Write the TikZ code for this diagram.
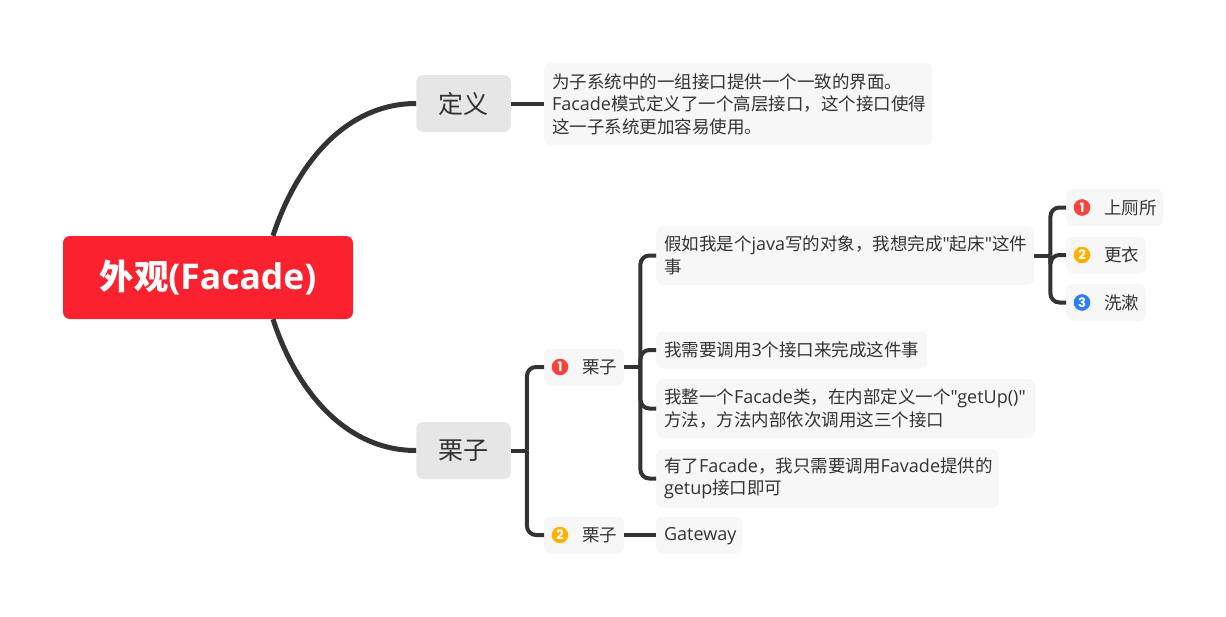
\documentclass[tikz,border=0pt]{standalone}
\usepackage{fontspec}
\usepackage{xcolor}
\usepackage{tikz}
\usetikzlibrary{calc}
\setmainfont{Noto Sans CJK SC}
\newfontfamily\latinfont[Scale=1.03]{Open Sans}
\newfontfamily\numfont{Poppins}
\newcommand{\la}[1]{{\latinfont #1}}
\definecolor{rootred}{HTML}{FB2230}
\definecolor{inkgray}{HTML}{333333}
\definecolor{mainfill}{HTML}{E6E6E6}
\definecolor{notefill}{HTML}{F7F7F7}
\definecolor{numred}{HTML}{F9423A}
\definecolor{numorange}{HTML}{FFB000}
\definecolor{numblue}{HTML}{2B7FF5}

\begin{document}
\begin{tikzpicture}[
  x=1pt, y=-1pt,
  rootnode/.style={
    rectangle, fill=rootred, rounded corners=7pt, text=white,
    minimum width=290pt, minimum height=83pt, inner sep=0pt,
    font=\fontsize{34.4}{40}\selectfont\bfseries,
  },
  mainnode/.style={
    rectangle, fill=mainfill, rounded corners=7pt, text=inkgray,
    minimum width=94.5pt, minimum height=57pt, inner sep=0pt,
    font=\fontsize{25}{30}\selectfont,
  },
  note/.style={
    rectangle, fill=notefill, rounded corners=7pt, text=inkgray,
    anchor=west, align=left, text width=#1, inner xsep=7.8pt, inner ysep=0pt,
    minimum height=37pt, font=\fontsize{17.5}{22.5}\selectfont,
  },
  bullet/.style={
    circle, fill=#1, draw=white, line width=0.6pt, text=white,
    minimum size=17.5pt, inner sep=0pt,
    font=\fontsize{13}{13}\selectfont\numfont\bfseries,
  },
  curve/.style={line width=5pt, inkgray},
  branch/.style={line width=4pt, inkgray, rounded corners=9pt},
]
\useasboundingbox (0,0) rectangle (1226,616);

% Root and the two main topics.
\node[rootnode] (root) at (208,277.5) {外观\la{(Facade)}};
\node[mainnode] (define) at (463.5,103.5) {定义};
\node[mainnode] (sample) at (463.5,450.5) {栗子};

% Notes, each with its left edge at a fixed x.
\node[note=372.4pt, minimum height=82pt] (defnote) at (544,104) {为子系统中的一组接口提供一个一致的界面。\\
  \la{Facade}模式定义了一个高层接口，这个接口使得\\
  这一子系统更加容易使用。};
\node[note=64.4pt] (subone) at (544,367) {\hspace*{30pt}栗子};
\node[note=64.4pt] (subtwo) at (544,535) {\hspace*{30pt}栗子};
\node[note=362.4pt, minimum height=59pt] (wakeup) at (656,255.5) {假如我是个\la{java}写的对象，我想完成\la{"}起床\la{"}这件\\事};
\node[note=255.4pt] (three) at (656,350) {我需要调用\la{3}个接口来完成这件事};
\node[note=363.4pt, minimum height=59pt] (facade) at (656,408.5) {我整一个\la{Facade}类，在内部定义一个\la{"getUp()"}\\
  方法，方法内部依次调用这三个接口};
\node[note=327.4pt, minimum height=59pt] (favade) at (656,478.5) {有了\la{Facade}，我只需要调用\la{Favade}提供的\\
  \la{getup}接口即可};
\node[note=70.4pt] (gateway) at (656,535) {\vphantom{我}\la{Gateway}};
\node[note=81.4pt] (toilet) at (1066,207.5) {\hspace*{30pt}上厕所};
\node[note=64.4pt] (dress) at (1066,255) {\hspace*{30pt}更衣};
\node[note=64.4pt] (wash) at (1066,302.5) {\hspace*{30pt}洗漱};

% Numbered markers.
\node[bullet=numred]    (numa) at (560,367)    {1};
\node[bullet=numorange] (numb) at (560,535)    {2};
\node[bullet=numred]    (numc) at (1082,207.5) {1};
\node[bullet=numorange] (numd) at (1082,255)   {2};
\node[bullet=numblue]   (nume) at (1082,302.5) {3};

% Curved links from the root.
\draw[curve] ([xshift=65pt]root.north) .. controls (296,165) and (345,103.5) .. (define.west);
\draw[curve] ([xshift=65pt]root.south) .. controls (296,390) and (345,450.5) .. (sample.west);

\draw[branch] (define.east) -- (defnote.west |- define.east);
\draw[branch] (subtwo.east) -- (gateway.west);

% Brackets: a stub to a joint, then one rounded elbow per child.
\coordinate (jointa) at ($(sample.east)+(16,0)$);
\draw[branch] (sample.east) -- (jointa);
\foreach \dst in {subone, subtwo} {
  \draw[branch] (jointa) |- (\dst.west);
}
\coordinate (jointb) at ($(subone.east)+(16,0)$);
\draw[branch] (subone.east) -- (jointb);
\foreach \dst in {wakeup, three, facade, favade} {
  \draw[branch] (jointb) |- (\dst.west);
}
\coordinate (jointc) at ($(wakeup.east)+(16,0)$);
\draw[branch] (wakeup.east) -- (jointc);
\foreach \dst in {toilet, dress, wash} {
  \draw[branch] (jointc) |- (\dst.west);
}
\end{tikzpicture}
\end{document}
